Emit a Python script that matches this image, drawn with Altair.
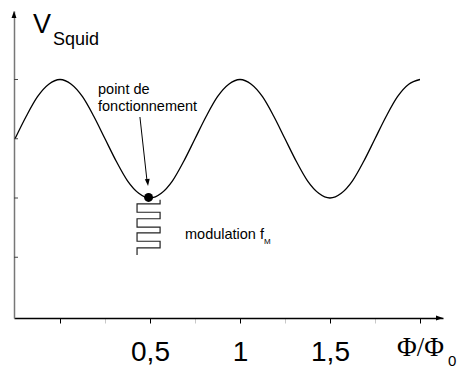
import altair as alt
import pandas as pd

# --- data ---
phi_curve = [-0.25, -0.1875, -0.125, -0.0625, 0.0, 0.0625, 0.125, 0.1875, 0.25, 0.3125,
             0.375, 0.4375, 0.5, 0.5625, 0.625, 0.6875, 0.75, 0.8125, 0.875, 0.9375,
             1.0, 1.0625, 1.125, 1.1875, 1.25, 1.3125, 1.375, 1.4375, 1.5, 1.5625,
             1.625, 1.6875, 1.75, 1.8125, 1.875, 1.9375, 2.0]
v_curve = [0.0, 0.38, 0.71, 0.92, 1.0, 0.92, 0.71, 0.38, 0.0, -0.38,
           -0.71, -0.92, -1.0, -0.92, -0.71, -0.38, 0.0, 0.38, 0.71, 0.92,
           1.0, 0.92, 0.71, 0.38, 0.0, -0.38, -0.71, -0.92, -1.0, -0.92,
           -0.71, -0.38, 0.0, 0.38, 0.71, 0.92, 1.0]

op_phi = [0.492]
op_v = [-0.99]

wave_phi = [0.556, 0.556, 0.428, 0.428, 0.556, 0.556, 0.428, 0.428, 0.556, 0.556,
            0.428, 0.428, 0.556, 0.556, 0.428, 0.428]
wave_v = [-1.03, -1.10, -1.10, -1.24, -1.24, -1.35, -1.35, -1.49, -1.49, -1.59,
          -1.59, -1.73, -1.73, -1.84, -1.84, -1.96]

arrow_phi = [0.444, 0.483]
arrow_v = [0.367, -0.70]
arrowhead_phi = [0.487]
arrowhead_v = [-0.738]

x_ticks = [0, 0.25, 0.5, 0.75, 1, 1.25, 1.5, 1.75, 2]
y_ticks = [-2, -1, 0, 1]

X_DOMAIN = [-0.2556, 2.1278]
Y_DOMAIN = [-3.025, 2.156]

FONT = "Liberation Sans"

label_expr = "datum.value == 0.5 ? '0,5' : datum.value == 1 ? '1' : datum.value == 1.5 ? '1,5' : ''"

x_axis = alt.Axis(
    values=x_ticks, labelExpr=label_expr, title=None, grid=False,
    domainColor="black", domainWidth=1.5,
    tickColor={"condition": {"test": "(datum.value * 2) % 1 == 0", "value": "black"}, "value": "#c8c8c8"},
    tickSize=5, tickWidth=1,
    labelFont=FONT, labelFontSize=28, labelColor="black", labelPadding=15,
    labelFlush=False, labelOverlap=False,
)
y_axis = alt.Axis(
    title=None, grid=False, labels=False, ticks=False,
    domainColor="#777777", domainWidth=1.5,
)

xs = alt.Scale(domain=X_DOMAIN, nice=False, zero=False)
ys = alt.Scale(domain=Y_DOMAIN, nice=False, zero=False)


def X(f):
    return alt.X(f, type="quantitative", scale=xs, axis=x_axis)


def Y(f):
    return alt.Y(f, type="quantitative", scale=ys, axis=y_axis)


curve = alt.Chart(pd.DataFrame({"phi": phi_curve, "v": v_curve})).mark_line(
    color="black", strokeWidth=1.3, interpolate="monotone"
).encode(x=X("phi"), y=Y("v"))

wave_df = pd.DataFrame({"phi": wave_phi, "v": wave_v, "i": list(range(len(wave_phi)))})
wave = alt.Chart(wave_df).mark_line(color="#222222", strokeWidth=1.2).encode(
    x=X("phi"), y=Y("v"), order=alt.Order("i:Q")
)

dot = alt.Chart(pd.DataFrame({"phi": op_phi, "v": op_v})).mark_point(
    filled=True, color="black", size=80, opacity=1
).encode(x=X("phi"), y=Y("v"))

shaft_df = pd.DataFrame({"phi": arrow_phi, "v": arrow_v, "i": [0, 1]})
shaft = alt.Chart(shaft_df).mark_line(color="black", strokeWidth=1).encode(
    x=X("phi"), y=Y("v"), order=alt.Order("i:Q")
)
head = alt.Chart(pd.DataFrame({"phi": arrowhead_phi, "v": arrowhead_v})).mark_point(
    shape="M-0.7,-1L0,1L0.7,-1Z", filled=True, color="black", size=49, opacity=1, angle=353.4
).encode(x=X("phi"), y=Y("v"))

# axis arrowheads
x_arrow = alt.Chart(pd.DataFrame({"phi": [X_DOMAIN[1] - 0.0195], "v": [Y_DOMAIN[0]]})).mark_point(
    shape="M-1,-0.7L1,0L-1,0.7Z", filled=True, color="black", size=49, opacity=1
).encode(x=X("phi"), y=Y("v"))
y_arrow = alt.Chart(pd.DataFrame({"phi": [X_DOMAIN[0]], "v": [Y_DOMAIN[1] - 0.059]})).mark_point(
    shape="M-0.7,1L0,-1L0.7,1Z", filled=True, color="black", size=49, opacity=1
).encode(x=X("phi"), y=Y("v"))

yticks = alt.Chart(pd.DataFrame({"v": y_ticks})).mark_rule(color="#444444", strokeWidth=1).encode(
    y=Y("v"), x=alt.value(0), x2=alt.value(4)
)


def txt(s, x, y, size, font=FONT, color="black"):
    return alt.Chart(pd.DataFrame({"t": [s]})).mark_text(
        align="left", baseline="alphabetic", font=font, fontSize=size, color=color
    ).encode(text="t:N", x=alt.value(x), y=alt.value(y))


texts = [
    txt("V", 19, 21.5, 27),
    txt("Squid", 39, 34, 18),
    txt("point de", 84, 83, 14.5),
    txt("fonctionnement", 84, 100, 14.5),
    txt("modulation f", 171, 228, 14.5),
    txt("M", 250, 233, 8),
    txt("Φ/Φ", 383, 345, 27, font="Liberation Serif"),
    txt("0", 434, 355, 15),
]

chart = alt.layer(curve, wave, dot, shaft, head, x_arrow, y_arrow, yticks, *texts).properties(
    width=429, height=307,
    autosize=alt.AutoSizeParams(type="none"),
    padding={"left": 6, "top": 3, "right": 14, "bottom": 50},
    background="white",
).configure_view(stroke=None)

chart.save("out.html", embed_options={"renderer": "svg", "actions": False})
